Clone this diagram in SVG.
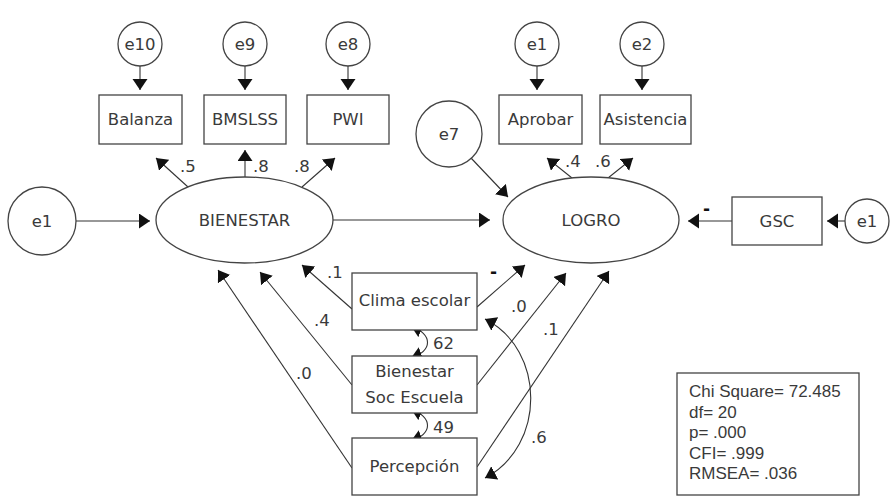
<svg xmlns="http://www.w3.org/2000/svg" width="891" height="497" viewBox="0 0 891 497">
<style>
.n{fill:#fff;stroke:#444;stroke-width:1.3}
.c{fill:none;stroke:#333;stroke-width:1.1}
.t{font-family:"DejaVu Sans",sans-serif;font-size:16.5px;fill:#3a3a3a;text-anchor:middle}
.l{font-family:"DejaVu Sans",sans-serif;font-size:16.5px;fill:#3a3a3a}
.d{font-family:"DejaVu Sans",sans-serif;font-size:17px;font-weight:bold;fill:#111}
.f{font-family:"Liberation Sans",Arial,sans-serif;font-size:17px;fill:#3a3a3a}
</style>
<defs>
<marker id="ah" markerUnits="userSpaceOnUse" markerWidth="12" markerHeight="16" refX="11" refY="7.5" orient="auto-start-reverse" viewBox="0 0 12 16">
<path d="M0,0 L11,7.5 L0,15 z" fill="#111"/>
</marker>
</defs>
<rect width="891" height="497" fill="#fff"/>
<g id="connectors">
<path class="c" marker-end="url(#ah)" d="M140,66 L140,90"/>
<path class="c" marker-end="url(#ah)" d="M245,66 L245,90"/>
<path class="c" marker-end="url(#ah)" d="M348,66 L348,90"/>
<path class="c" marker-end="url(#ah)" d="M537,66 L537,90"/>
<path class="c" marker-end="url(#ah)" d="M642,66 L642,90"/>
<path class="c" marker-end="url(#ah)" d="M188,187 L156,158"/>
<path class="c" marker-end="url(#ah)" d="M245,177 L245,150"/>
<path class="c" marker-end="url(#ah)" d="M302,187 L335,158"/>
<path class="c" marker-end="url(#ah)" d="M572,178 L547,158"/>
<path class="c" marker-end="url(#ah)" d="M608,178 L633,158"/>
<path class="c" marker-end="url(#ah)" d="M76,221 L150,221"/>
<path class="c" marker-end="url(#ah)" d="M333,220 L490,220"/>
<path class="c" marker-end="url(#ah)" d="M471,158 L508,197"/>
<path class="c" marker-end="url(#ah)" d="M732,221 L688,221"/>
<path class="c" marker-end="url(#ah)" d="M845,221 L827,221"/>
<path class="c" marker-end="url(#ah)" d="M352,309 L302,265"/>
<path class="c" marker-end="url(#ah)" d="M352,385 L260,272"/>
<path class="c" marker-end="url(#ah)" d="M352,468 L218,270"/>
<path class="c" marker-end="url(#ah)" d="M477,307 L525,265"/>
<path class="c" marker-end="url(#ah)" d="M477,385 L566,273"/>
<path class="c" marker-end="url(#ah)" d="M477,467 L609,271"/>
<path class="c" marker-start="url(#ah)" marker-end="url(#ah)" d="M411,358 C433,350 433,335 411,326"/>
<path class="c" marker-start="url(#ah)" marker-end="url(#ah)" d="M411,441 C433,433 433,418 411,409"/>
<path class="c" marker-start="url(#ah)" marker-end="url(#ah)" d="M485,478 C546,446 546,350 485,319"/>
<text class="l" x="180" y="172">.5</text>
<text class="l" x="253" y="172">.8</text>
<text class="l" x="294" y="172">.8</text>
<text class="l" x="565" y="167">.4</text>
<text class="l" x="595" y="167">.6</text>
<text class="d" x="703" y="215">-</text>
<text class="l" x="327" y="278">.1</text>
<text class="l" x="314" y="326">.4</text>
<text class="l" x="296" y="379">.0</text>
<text class="d" x="490" y="278">-</text>
<text class="l" x="511" y="312">.0</text>
<text class="l" x="543" y="335">.1</text>
<text class="l" x="433" y="349">62</text>
<text class="l" x="433" y="433">49</text>
<text class="l" x="531" y="443">.6</text>
</g>
<g id="e10"><circle class="n" cx="140" cy="44" r="22"/><text class="t" x="140" y="50">e10</text></g>
<g id="e9"><circle class="n" cx="245" cy="44" r="22"/><text class="t" x="245" y="50">e9</text></g>
<g id="e8"><circle class="n" cx="348" cy="44" r="22"/><text class="t" x="348" y="50">e8</text></g>
<g id="e1top"><circle class="n" cx="537" cy="44" r="22"/><text class="t" x="537" y="50">e1</text></g>
<g id="e2"><circle class="n" cx="642" cy="44" r="22"/><text class="t" x="642" y="50">e2</text></g>
<g id="Balanza"><rect class="n" x="99" y="95" width="83" height="49"/><text class="t" x="140.5" y="125">Balanza</text></g>
<g id="BMSLSS"><rect class="n" x="204" y="95" width="82" height="49"/><text class="t" x="245" y="125">BMSLSS</text></g>
<g id="PWI"><rect class="n" x="307" y="95" width="82" height="49"/><text class="t" x="348" y="125">PWI</text></g>
<g id="Aprobar"><rect class="n" x="499" y="95" width="83" height="49"/><text class="t" x="540.5" y="125">Aprobar</text></g>
<g id="Asistencia"><rect class="n" x="600" y="95" width="91" height="49"/><text class="t" x="645.5" y="125">Asistencia</text></g>
<g id="e7"><circle class="n" cx="449" cy="134" r="33"/><text class="t" x="449" y="140">e7</text></g>
<g id="e1left"><circle class="n" cx="42" cy="221" r="34"/><text class="t" x="42" y="227">e1</text></g>
<g id="BIENESTAR"><ellipse class="n" cx="244.5" cy="220" rx="88.5" ry="43"/><text class="t" x="244.5" y="226">BIENESTAR</text></g>
<g id="LOGRO"><ellipse class="n" cx="591" cy="220" rx="88" ry="43"/><text class="t" x="591" y="226">LOGRO</text></g>
<g id="GSC"><rect class="n" x="732" y="197" width="90" height="48"/><text class="t" x="777" y="227">GSC</text></g>
<g id="e1right"><circle class="n" cx="867" cy="221" r="22"/><text class="t" x="867" y="227">e1</text></g>
<g id="Clima"><rect class="n" x="352" y="273" width="125" height="57"/><text class="t" x="414.5" y="306">Clima escolar</text></g>
<g id="BSE"><rect class="n" x="352" y="356" width="125" height="57"/><text class="t" x="414.5" y="377">Bienestar</text><text class="t" x="414.5" y="403">Soc Escuela</text></g>
<g id="Percepcion"><rect class="n" x="352" y="438" width="125" height="57"/><text class="t" x="414.5" y="472">Percepción</text></g>
<g id="fit"><rect class="n" x="677" y="373" width="182" height="122"/>
<text class="f" x="689" y="397">Chi Square= 72.485</text>
<text class="f" x="689" y="418">df= 20</text>
<text class="f" x="689" y="438">p= .000</text>
<text class="f" x="689" y="459">CFI= .999</text>
<text class="f" x="689" y="479">RMSEA= .036</text>
</g>
</svg>
